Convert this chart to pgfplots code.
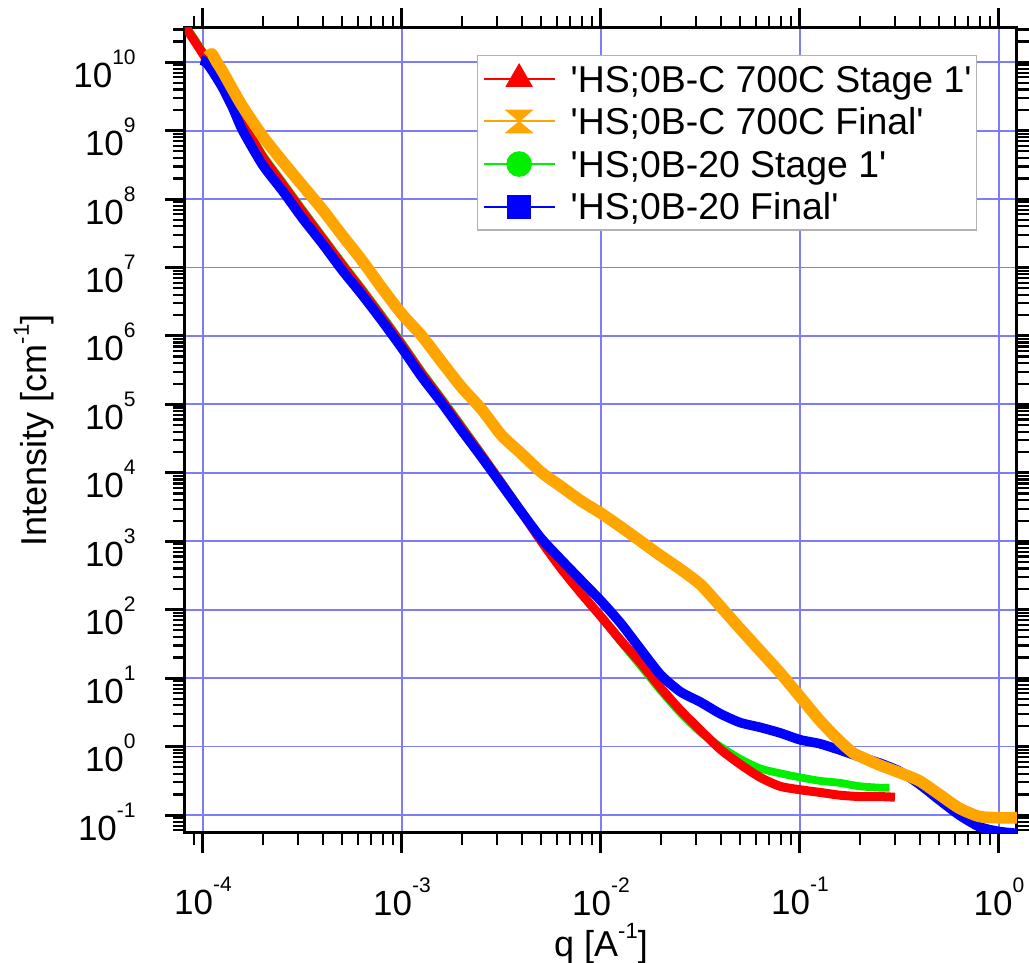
\documentclass[border=0pt]{standalone}
\usepackage{fontspec}
\setmainfont{Liberation Sans}
\usepackage{pgfplots}
\pgfplotsset{compat=1.18}

\definecolor{gridblue}{RGB}{125,125,250}
\definecolor{cRed}{RGB}{255,0,0}
\definecolor{cOrange}{RGB}{255,165,0}
\definecolor{cGreen}{RGB}{0,240,0}
\definecolor{cBlue}{RGB}{0,0,255}

% hourglass marker: two triangles meeting at their tips
\pgfdeclareplotmark{hourglass}{%
  \pgfpathmoveto{\pgfqpoint{-1.08\pgfplotmarksize}{0.92\pgfplotmarksize}}%
  \pgfpathlineto{\pgfqpoint{1.08\pgfplotmarksize}{0.92\pgfplotmarksize}}%
  \pgfpathlineto{\pgfqpoint{-1.08\pgfplotmarksize}{-0.92\pgfplotmarksize}}%
  \pgfpathlineto{\pgfqpoint{1.08\pgfplotmarksize}{-0.92\pgfplotmarksize}}%
  \pgfpathclose
  \pgfusepathqfillstroke}

% power-of-ten tick label in the text font
\newcommand{\ex}[1]{10\raisebox{11.5pt}{\fontsize{10.5}{12}\selectfont #1}}
\newcommand{\supx}[1]{\raisebox{9pt}{\fontsize{11}{12}\selectfont #1}}
\newcommand{\q}{\textquotesingle}

\begin{document}
\begin{tikzpicture}
\begin{axis}[
  xmode=log, ymode=log,
  scale only axis, width=416pt, height=402.5pt,
  xmin=8.13e-5, xmax=1.232,
  ymin=0.0546, ymax=3.16e10,
  axis line style={line width=1.5pt},
  tick align=outside,
  major tick length=10pt, minor tick length=6pt,
  tick style={black, line width=1.5pt},
  minor tick style={black, line width=1.1pt},
  grid=major,
  major grid style={draw=gridblue, line width=0.9pt},
  xtick={1e-4,1e-3,1e-2,1e-1,1},
  xticklabels={\ex{-4},\ex{-3},\ex{-2},\ex{-1},\ex{0}},
  minor xtick={9e-5,2e-4,3e-4,4e-4,5e-4,6e-4,7e-4,8e-4,9e-4,
    2e-3,3e-3,4e-3,5e-3,6e-3,7e-3,8e-3,9e-3,
    2e-2,3e-2,4e-2,5e-2,6e-2,7e-2,8e-2,9e-2,
    2e-1,3e-1,4e-1,5e-1,6e-1,7e-1,8e-1,9e-1},
  ytick={1e-1,1,1e1,1e2,1e3,1e4,1e5,1e6,1e7,1e8,1e9,1e10},
  yticklabels={\ex{-1},\ex{0},\ex{1},\ex{2},\ex{3},\ex{4},\ex{5},\ex{6},\ex{7},\ex{8},\ex{9},\ex{10}},
  minor ytick={6e-2,7e-2,8e-2,9e-2,
    2e-1,3e-1,4e-1,5e-1,6e-1,7e-1,8e-1,9e-1,
    2,3,4,5,6,7,8,9,
    20,30,40,50,60,70,80,90,
    200,300,400,500,600,700,800,900,
    2e3,3e3,4e3,5e3,6e3,7e3,8e3,9e3,
    2e4,3e4,4e4,5e4,6e4,7e4,8e4,9e4,
    2e5,3e5,4e5,5e5,6e5,7e5,8e5,9e5,
    2e6,3e6,4e6,5e6,6e6,7e6,8e6,9e6,
    2e7,3e7,4e7,5e7,6e7,7e7,8e7,9e7,
    2e8,3e8,4e8,5e8,6e8,7e8,8e8,9e8,
    2e9,3e9,4e9,5e9,6e9,7e9,8e9,9e9,
    2e10,3e10},
  tick label style={font=\fontsize{17.5}{20}\selectfont, inner sep=0pt},
  xticklabel style={anchor=north, yshift=-12pt},
  yticklabel style={anchor=base east, xshift=-14.5pt, yshift=-12.5pt},
  xlabel={q [A\supx{-1}]},
  ylabel={Intensity [cm\supx{-1}]},
  x label style={font=\fontsize{18}{20}\selectfont, inner sep=0pt,
    at={(axis description cs:0.5,-0.1528)}, anchor=base},
  y label style={font=\fontsize{18}{20}\selectfont, inner sep=0pt,
    at={(axis description cs:-0.1659,0.5)}, anchor=base},
  legend style={at={(axis description cs:0.3510,0.9665)}, anchor=north west,
    draw=gray!60, line width=0.6pt, fill=white,
    inner xsep=2.5pt, inner ysep=1pt,
    font=\fontsize{18.7}{21.3}\selectfont, row sep=0pt,
    nodes={inner xsep=0pt, inner ysep=4pt, text height=13.3pt, text depth=0pt},
    /tikz/every odd column/.append style={column sep=7.5pt}},
  legend cell align=left,
  legend image code/.code={%
    \draw[mark repeat=2, mark phase=2, #1]
      plot coordinates {(0pt,0pt) (17.75pt,0pt) (35.5pt,0pt)};},
]

\addlegendimage{cRed, line width=1pt, mark=triangle*, mark size=7.5pt, mark options={solid, line width=0.4pt}}
\addlegendentry{\q HS;0B-C 700C Stage 1\q}
\addlegendimage{cOrange, line width=1pt, mark=hourglass, mark size=6.2pt, mark options={solid, line width=0.4pt}}
\addlegendentry{\q HS;0B-C 700C Final\q}
\addlegendimage{cGreen, line width=1pt, mark=*, mark size=6.2pt, mark options={solid, line width=0.4pt}}
\addlegendentry{\q HS;0B-20 Stage 1\q}
\addlegendimage{cBlue, line width=1pt, mark=square*, mark size=5.75pt, mark options={solid, line width=0.4pt}}
\addlegendentry{\q HS;0B-20 Final\q}

% 'HS;0B-20 Stage 1'
\addplot[cGreen, line width=3.9pt, line join=round, smooth, tension=0.4, forget plot] table {
q I
8.13e-5 3.47e10
9.12e-5 2.14e10
1e-4 1.41e10
1.122e-4 8.51e9
1.259e-4 5.01e9
1.413e-4 2.69e9
1.585e-4 1.41e9
1.995e-4 4.47e8
2.512e-4 1.78e8
3.162e-4 7.08e7
3.981e-4 2.88e7
5.012e-4 1.17e7
6.310e-4 4.90e6
7.943e-4 2.0e6
1e-3 7.94e5
1.259e-3 3.02e5
1.585e-3 1.23e5
1.995e-3 4.90e4
2.512e-3 1.91e4
3.162e-3 7.41e3
3.981e-3 2.82e3
5.012e-3 1.05e3
6.310e-3 417
7.943e-3 178
1e-2 79.4
1.259e-2 33.9
1.585e-2 15.1
1.995e-2 6.61
2.512e-2 3.09
3.162e-2 1.62
3.981e-2 1.0
5.012e-2 0.661
6.310e-2 0.479
7.943e-2 0.407
0.1 0.355
0.1259 0.316
0.1585 0.295
0.1995 0.263
0.2512 0.251
0.2818 0.251
};

% 'HS;0B-C 700C Stage 1'
\addplot[cRed, line width=4.5pt, line join=round, smooth, tension=0.4, forget plot] table {
q I
8.13e-5 3.31e10
9.12e-5 2.0e10
1e-4 1.32e10
1.122e-4 7.94e9
1.259e-4 4.68e9
1.413e-4 2.51e9
1.585e-4 1.32e9
1.995e-4 4.17e8
2.512e-4 1.66e8
3.162e-4 6.61e7
3.981e-4 2.69e7
5.012e-4 1.10e7
6.310e-4 4.57e6
7.943e-4 1.86e6
1e-3 7.41e5
1.259e-3 2.82e5
1.585e-3 1.15e5
1.995e-3 4.57e4
2.512e-3 1.82e4
3.162e-3 7.08e3
3.981e-3 2.69e3
5.012e-3 1.0e3
6.310e-3 398
7.943e-3 174
1e-2 79.4
1.259e-2 35.5
1.585e-2 16.6
1.995e-2 7.24
2.512e-2 3.39
3.162e-2 1.74
3.981e-2 0.912
5.012e-2 0.550
6.310e-2 0.355
7.943e-2 0.263
0.1 0.234
0.1259 0.214
0.1585 0.195
0.1995 0.186
0.2512 0.186
0.300 0.182
};

% 'HS;0B-20 Final'
\addplot[cBlue, line width=4.8pt, line join=round, smooth, tension=0.4, forget plot] table {
q I
9.77e-5 1.07e10
1.035e-4 1.0e10
1.122e-4 7.24e9
1.259e-4 4.17e9
1.413e-4 2.14e9
1.585e-4 1.0e9
1.995e-4 3.16e8
2.512e-4 1.32e8
3.162e-4 5.25e7
3.981e-4 2.24e7
5.012e-4 9.12e6
6.310e-4 3.98e6
7.943e-4 1.66e6
1e-3 6.61e5
1.259e-3 2.51e5
1.585e-3 1.05e5
1.995e-3 4.17e4
2.512e-3 1.70e4
3.162e-3 6.76e3
3.981e-3 2.69e3
5.012e-3 1.10e3
6.310e-3 537
7.943e-3 269
1e-2 135
1.259e-2 63.1
1.585e-2 26.3
1.995e-2 11.2
2.512e-2 6.31
3.162e-2 4.47
3.981e-2 3.02
5.012e-2 2.24
6.310e-2 1.91
7.943e-2 1.585
0.1 1.26
0.1259 1.10
0.1585 0.891
0.1995 0.708
0.2512 0.575
0.3162 0.437
0.3981 0.282
0.5012 0.166
0.631 0.100
0.7943 0.0676
1.0 0.0575
1.259 0.0537
};

% 'HS;0B-C 700C Final'
\addplot[cOrange, line width=5.8pt, line join=round, smooth, tension=0.4, forget plot] table {
q I
1.059e-4 1.20e10
1.109e-4 1.32e10
1.175e-4 1.0e10
1.259e-4 7.24e9
1.413e-4 3.98e9
1.585e-4 2.24e9
1.995e-4 8.32e8
2.512e-4 3.55e8
3.162e-4 1.585e8
3.981e-4 7.08e7
5.012e-4 2.95e7
6.310e-4 1.26e7
7.943e-4 5.01e6
1e-3 2.09e6
1.259e-3 1.0e6
1.585e-3 4.17e5
1.995e-3 1.78e5
2.512e-3 8.51e4
3.162e-3 3.55e4
3.981e-3 1.91e4
5.012e-3 1.02e4
6.310e-3 6.31e3
7.943e-3 3.89e3
1e-2 2.57e3
1.259e-2 1.62e3
1.585e-2 1.0e3
1.995e-2 617
2.512e-2 389
3.162e-2 234
3.981e-2 112
5.012e-2 52.5
6.310e-2 25.1
7.943e-2 12.0
0.1 5.37
0.1259 2.40
0.1585 1.20
0.1845 0.813
0.1995 0.724
0.2512 0.537
0.3162 0.417
0.3981 0.316
0.5012 0.200
0.631 0.126
0.7943 0.0955
1.0 0.0912
1.259 0.0912
};

\end{axis}
\pgfresetboundingbox
\useasboundingbox (-92.5pt,-65pt) rectangle (422pt,416.5pt);
\end{tikzpicture}
\end{document}
